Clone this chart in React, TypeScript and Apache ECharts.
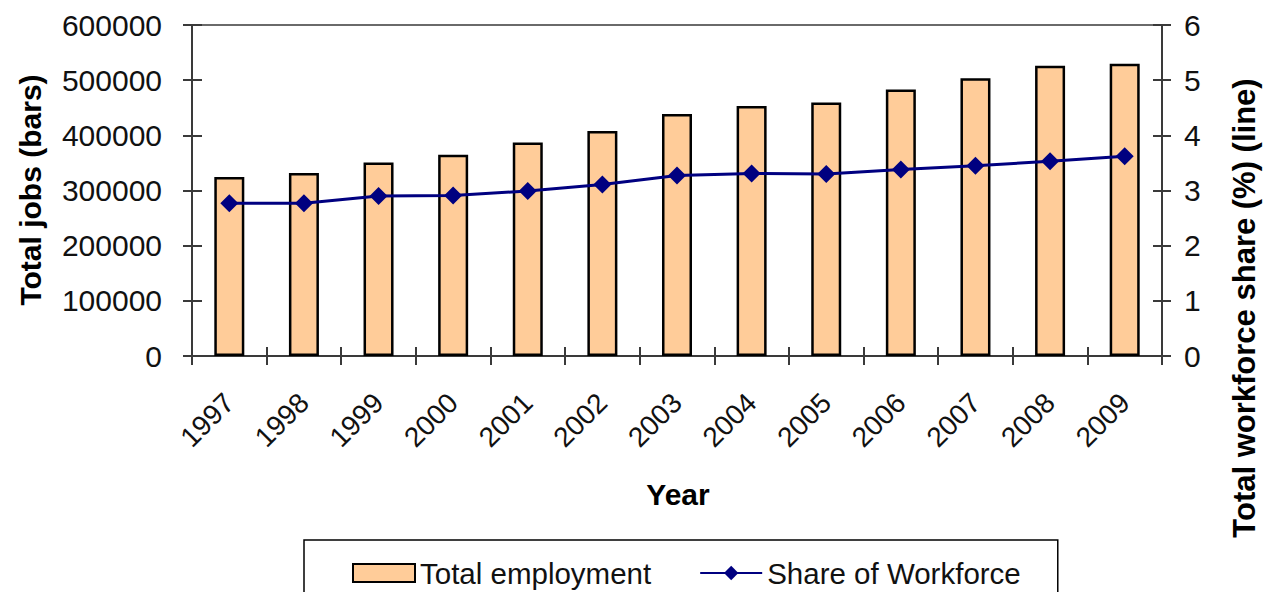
import React, { useEffect, useRef } from "react";
import * as echarts from "echarts";

const years = ["1997", "1998", "1999", "2000", "2001", "2002", "2003", "2004", "2005", "2006", "2007", "2008", "2009"];
const totalEmployment = [324500, 331800, 350600, 365000, 386800, 408000, 438500, 453000, 459500, 483300, 503700, 526000, 529700];
const workforceShare = [2.77, 2.77, 2.9, 2.91, 2.99, 3.11, 3.27, 3.31, 3.3, 3.38, 3.45, 3.53, 3.62];

const FONT = "'Liberation Sans', Arial, Helvetica, sans-serif";
const AXIS_COLOR = "#3a3a3a";

export default function App() {
  const ref = useRef<HTMLDivElement>(null);
  useEffect(() => {
    if (!ref.current) return;
    const chart = echarts.init(ref.current, undefined, { renderer: "svg" });
    const leftAxisBase = {
      type: "value",
      min: 0,
      max: 600000,
      interval: 100000,
      splitLine: { show: false },
    };
    const rightAxisBase = {
      type: "value",
      min: 0,
      max: 6,
      interval: 1,
      splitLine: { show: false },
    };
    chart.setOption({
      animation: false,
      backgroundColor: "#ffffff",
      textStyle: { fontFamily: FONT },
      grid: {
        left: 192,
        right: 101,
        top: 25,
        bottom: 236,
        show: true,
        borderColor: "#6a6a6a",
        borderWidth: 2,
      },
      xAxis: [
        {
          type: "category",
          data: years,
          position: "bottom",
          axisLine: { show: true, lineStyle: { color: AXIS_COLOR, width: 2 } },
          axisTick: { show: true, length: 9, alignWithLabel: false, lineStyle: { color: AXIS_COLOR, width: 2 } },
          axisLabel: { rotate: 45, margin: 42, fontSize: 28, color: "#111", fontFamily: FONT },
        },
        {
          type: "category",
          data: years,
          position: "bottom",
          axisLine: { show: false },
          axisTick: { show: true, inside: true, length: 9, lineStyle: { color: AXIS_COLOR, width: 2 } },
          axisLabel: { show: false },
        },
      ],
      yAxis: [
        {
          ...leftAxisBase,
          position: "left",
          axisLine: { show: true, lineStyle: { color: AXIS_COLOR, width: 2 } },
          axisTick: { show: true, length: 9, lineStyle: { color: AXIS_COLOR, width: 2 } },
          axisLabel: {
            margin: 30,
            fontSize: 30,
            color: "#111",
            fontFamily: FONT,
            formatter: (v: number) => String(v),
          },
        },
        {
          ...rightAxisBase,
          position: "right",
          axisLine: { show: true, lineStyle: { color: AXIS_COLOR, width: 2 } },
          axisTick: { show: true, length: 9, lineStyle: { color: AXIS_COLOR, width: 2 } },
          axisLabel: { margin: 22, fontSize: 30, color: "#111", fontFamily: FONT },
        },
        {
          ...leftAxisBase,
          position: "left",
          axisLine: { show: false },
          axisTick: { show: true, inside: true, length: 10, lineStyle: { color: AXIS_COLOR, width: 2 } },
          axisLabel: { show: false },
        },
        {
          ...rightAxisBase,
          position: "right",
          axisLine: { show: false },
          axisTick: { show: true, inside: true, length: 9, lineStyle: { color: AXIS_COLOR, width: 2 } },
          axisLabel: { show: false },
        },
      ],
      legend: {
        left: 304,
        top: 540,
        orient: "horizontal",
        padding: [18, 37, 40, 48],
        itemGap: 48,
        itemWidth: 62,
        itemHeight: 18,
        borderColor: "#000",
        borderWidth: 1.5,
        textStyle: { fontSize: 29.5, color: "#111", fontFamily: FONT },
        data: [
          { name: "Total employment", icon: "rect" },
          { name: "Share of Workforce" },
        ],
      },
      graphic: [
        {
          type: "text",
          x: 30,
          y: 190,
          rotation: Math.PI / 2,
          style: {
            text: "Total jobs (bars)",
            font: `bold 30px ${FONT}`,
            fill: "#000",
            textAlign: "center",
            textVerticalAlign: "middle",
          },
        },
        {
          type: "text",
          x: 1244,
          y: 308,
          rotation: Math.PI / 2,
          style: {
            text: "Total workforce share (%) (line)",
            font: `bold 31px ${FONT}`,
            fill: "#000",
            textAlign: "center",
            textVerticalAlign: "middle",
          },
        },
        {
          type: "text",
          x: 678,
          y: 494,
          style: {
            text: "Year",
            font: `bold 30px ${FONT}`,
            fill: "#000",
            textAlign: "center",
            textVerticalAlign: "middle",
          },
        },
      ],
      series: [
        {
          name: "Total employment",
          type: "bar",
          xAxisIndex: 0,
          yAxisIndex: 0,
          data: totalEmployment,
          barWidth: 30,
          itemStyle: { color: "#FFCC99", borderColor: "#000", borderWidth: 2.5 },
        },
        {
          name: "Share of Workforce",
          type: "line",
          xAxisIndex: 0,
          yAxisIndex: 1,
          data: workforceShare,
          symbol: "diamond",
          symbolSize: 18,
          lineStyle: { color: "#000080", width: 3 },
          itemStyle: { color: "#000080" },
        },
      ],
    });
    return () => chart.dispose();
  }, []);
  return (
    <div
      ref={ref}
      style={{ position: "fixed", left: 0, top: 0, width: 1263, height: 592, background: "#fff" }}
    />
  );
}
